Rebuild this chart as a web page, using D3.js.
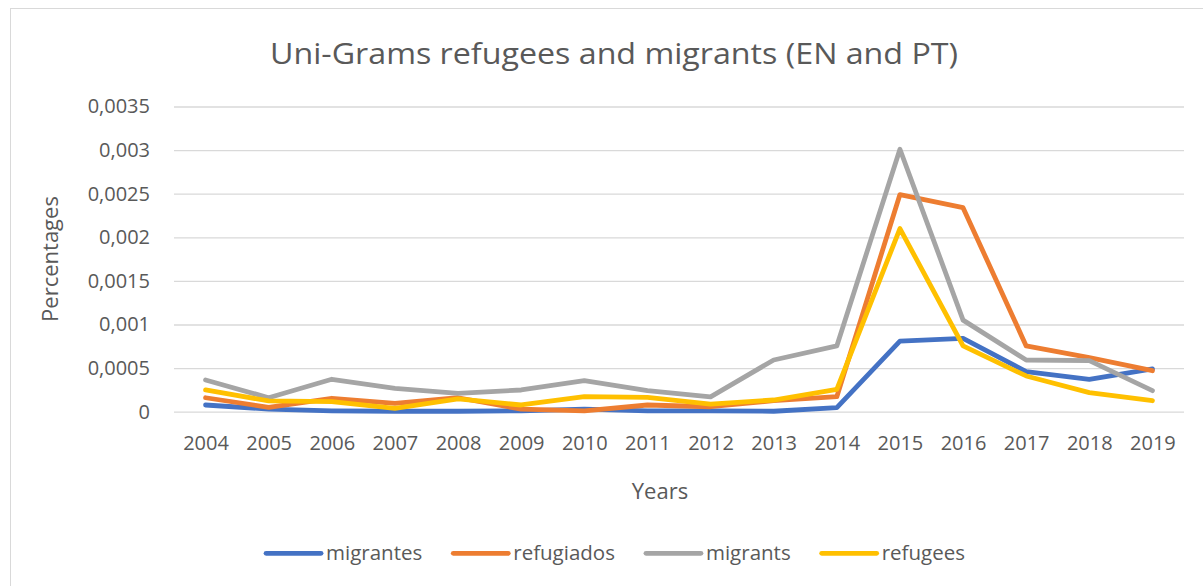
<!DOCTYPE html>
<html>
<head>
<meta charset="utf-8">
<script src="https://cdn.jsdelivr.net/npm/d3@7/dist/d3.min.js"></script>
<style>
  html, body { margin: 0; padding: 0; background: #ffffff; }
  svg { display: block; font-family: "Open Sans", "Noto Sans", sans-serif; }
</style>
</head>
<body>
<svg id="chart" width="1203" height="586"></svg>
<script>
// Yearly share of uni-gram occurrences (values as proportions)
const years = ["2004","2005","2006","2007","2008","2009","2010","2011","2012","2013","2014","2015","2016","2017","2018","2019"];
const migrantes  = [0.000077,0.00003,0.00001,0.000005,0.000005,0.00001,0.00003,0.00001,0.00001,0.000005,0.000046,0.00081,0.00084,0.00046,0.00037,0.00049];
const refugiados = [0.00016,0.00005,0.000154,0.000096,0.00016,0.00003,0.00001,0.000077,0.000057,0.000126,0.000172,0.00249,0.00234,0.000754,0.00062,0.00047];
const migrants   = [0.000364,0.00016,0.000372,0.000268,0.000211,0.000249,0.000356,0.000241,0.00017,0.000593,0.000754,0.00301,0.00105,0.000593,0.000585,0.000241];
const refugees   = [0.000249,0.000123,0.000115,0.000039,0.000146,0.000077,0.000172,0.000165,0.000088,0.000134,0.000257,0.0021,0.000754,0.00041,0.000218,0.000126];
const yTicks = [0,0.0005,0.001,0.0015,0.002,0.0025,0.003,0.0035];
const seriesNames = ["migrantes","refugiados","migrants","refugees"];
const seriesColors = ["#4472C4","#ED7D31","#A5A5A5","#FFC000"];

const title = "Uni-Grams refugees and migrants (EN and PT)";
const xTitle = "Years";
const yTitle = "Percentages";

const series = [migrantes, refugiados, migrants, refugees].map((vals, i) => ({
  name: seriesNames[i], color: seriesColors[i], values: vals
}));

const svg = d3.select("#chart");
const textColor = "#595959";
const gridColor = "#d9d9d9";

// outer chart frame
svg.append("rect")
  .attr("x", 10.5).attr("y", 8.5)
  .attr("width", 1300).attr("height", 700)
  .attr("fill", "#ffffff").attr("stroke", gridColor).attr("stroke-width", 1);

const plot = { left: 174, right: 1184, top: 106.5, bottom: 411.7 };

const x = d3.scalePoint().domain(years).range([plot.left, plot.right]).padding(0.5);
const y = d3.scaleLinear().domain([0, 0.0035]).range([plot.bottom, plot.top]);

const locale = d3.formatLocale({ decimal: ",", thousands: ".", grouping: [3], currency: ["", ""] });
const fmt = locale.format("~g");

// value axis with gridlines
const yAxis = svg.append("g")
  .attr("transform", `translate(${plot.left},0)`)
  .call(d3.axisLeft(y).tickValues(yTicks).tickFormat(fmt)
    .tickSize(-(plot.right - plot.left)).tickPadding(24));
yAxis.select(".domain").remove();
yAxis.selectAll(".tick line").attr("stroke", gridColor).attr("stroke-width", 1.3);
yAxis.selectAll(".tick text")
  .attr("fill", textColor).attr("font-size", 20)
  .attr("font-family", "'Open Sans', sans-serif");

// category axis
const xAxis = svg.append("g")
  .attr("transform", `translate(0,${plot.bottom})`)
  .call(d3.axisBottom(x).tickSize(0).tickPadding(24));
xAxis.select(".domain").remove();
xAxis.selectAll(".tick text")
  .attr("fill", textColor).attr("font-size", 20)
  .attr("font-family", "'Open Sans', sans-serif");

// series lines
const line = d3.line()
  .x((d, i) => x(years[i]))
  .y(d => y(d));

svg.append("g").selectAll("path")
  .data(series)
  .join("path")
  .attr("d", d => line(d.values))
  .attr("fill", "none")
  .attr("stroke", d => d.color)
  .attr("stroke-width", 4.8)
  .attr("stroke-linejoin", "round")
  .attr("stroke-linecap", "round");

// title
svg.append("text")
  .attr("x", 614).attr("y", 63.5)
  .attr("text-anchor", "middle")
  .attr("fill", textColor)
  .attr("font-size", 30)
  .attr("textLength", 688)
  .attr("lengthAdjust", "spacingAndGlyphs")
  .text(title);

// axis titles
svg.append("text")
  .attr("x", 660).attr("y", 498.5)
  .attr("text-anchor", "middle")
  .attr("fill", textColor)
  .attr("font-size", 22)
  .text(xTitle);

svg.append("text")
  .attr("transform", "translate(58,259) rotate(-90)")
  .attr("text-anchor", "middle")
  .attr("fill", textColor)
  .attr("font-size", 22)
  .text(yTitle);

// legend, centred under the plot
const legend = svg.append("g");
const swatchW = 55, swatchGap = 5, itemGap = 31, legendY = 553.3;
const items = legend.selectAll("g").data(series).join("g");
items.append("line")
  .attr("x1", 0).attr("x2", swatchW)
  .attr("y1", 0).attr("y2", 0)
  .attr("stroke", d => d.color)
  .attr("stroke-width", 4.8)
  .attr("stroke-linecap", "round");
items.append("text")
  .attr("x", swatchW + swatchGap)
  .attr("y", 6.5)
  .attr("fill", textColor)
  .attr("font-size", 20.5)
  .text(d => d.name);

let offset = 0;
const positions = [];
items.each(function () {
  const w = swatchW + swatchGap + d3.select(this).select("text").node().getComputedTextLength();
  positions.push(offset);
  offset += w + itemGap;
});
const totalW = offset - itemGap;
const startX = 615.5 - totalW / 2;
items.attr("transform", (d, i) => `translate(${startX + positions[i]},${legendY})`);
</script>
</body>
</html>
